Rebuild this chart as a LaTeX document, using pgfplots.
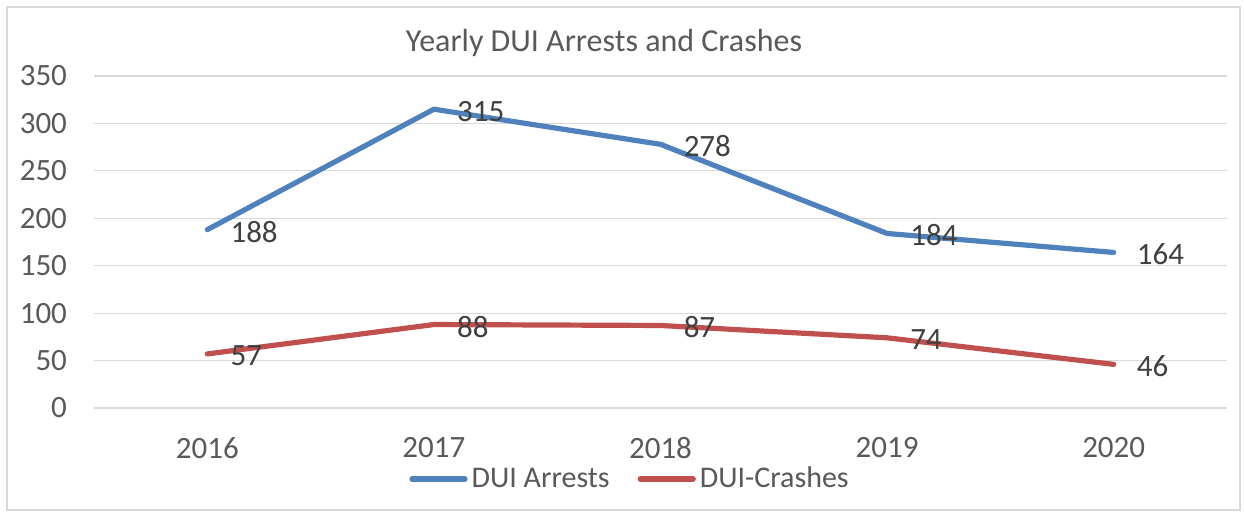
\documentclass[border=0pt]{standalone}
\usepackage{pgfplots}
\pgfplotsset{compat=1.18}
\usepackage{fontspec}
\setmainfont{Carlito}
\definecolor{cblue}{HTML}{4F81BD}
\definecolor{cred}{HTML}{C0504D}
\definecolor{txt}{HTML}{595959}
\definecolor{lbl}{HTML}{404040}
\definecolor{grd}{HTML}{D9D9D9}
\begin{document}
\begin{tikzpicture}
\begin{axis}[
  name=ax,
  scale only axis,
  width=566.5pt, height=166pt,
  xmin=-0.5, xmax=4.5,
  ymin=0, ymax=350,
  xtick={0,1,2,3,4},
  xticklabels={2016,2017,2018,2019,2020},
  ytick={0,50,...,350},
  ymajorgrids,
  grid style={grd, line width=0.6pt},
  axis line style={draw=none},
  major tick length=0pt,
  /pgf/number format/assume math mode=true,
  tick label style={font=\fontsize{15.5}{18}\selectfont, text=txt},
  yticklabel style={xshift=-10pt},
  xticklabel style={yshift=-11pt},
  clip=false,
  legend columns=2,
  legend style={at={(rel axis cs:0.474,-0.214)}, anchor=center, draw=none, fill=none,
    font=\fontsize{15}{18}\selectfont, text=txt,
    /tikz/every even column/.append style={column sep=12pt}},
  legend image code/.code={\draw[#1, line cap=round] (0pt,0pt) -- (26.5pt,0pt);},
  nodes near coords,
  every node near coord/.append style={anchor=west, xshift=7pt, yshift=-1pt,
    font=\fontsize{15.5}{18}\selectfont, text=lbl},
]
\addplot[cblue, line width=2.6pt, line cap=round, line join=round, mark=none] coordinates {
(0,188) (1,315) (2,278) (3,184) (4,164)};
\addlegendentry{DUI Arrests}
\addplot[cred, line width=2.6pt, line cap=round, line join=round, mark=none] coordinates {
(0,57) (1,88) (2,87) (3,74) (4,46)};
\addlegendentry{DUI-Crashes}
\end{axis}
\node[font=\fontsize{16}{19}\selectfont, text=txt] at ([xshift=255pt, yshift=182.5pt]ax.south west) {Yearly DUI Arrests and Crashes};
\draw[grd, line width=0.7pt] ([xshift=-43.5pt, yshift=-51pt]ax.south west) rectangle ([xshift=573pt, yshift=200.5pt]ax.south west);
\path ([xshift=-47pt, yshift=-53.5pt]ax.south west) rectangle ([xshift=575pt, yshift=204pt]ax.south west);
\end{tikzpicture}
\end{document}
